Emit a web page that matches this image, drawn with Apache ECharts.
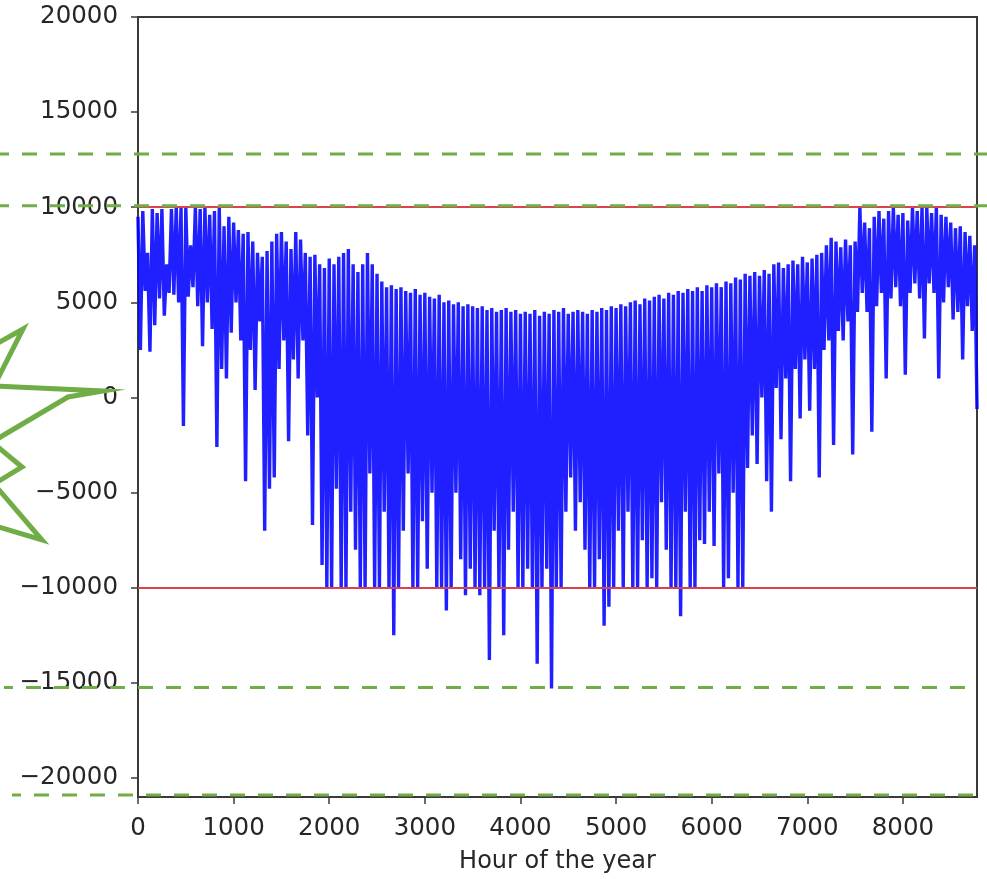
<!DOCTYPE html>
<html>
<head>
    <meta charset="utf-8">
    <title>Hour of the year</title>
    <script src="https://cdn.jsdelivr.net/npm/echarts@6/dist/echarts.min.js"></script>
    <style>
        html, body { margin: 0; padding: 0; background: #fff; }
        #main { width: 987px; height: 879px; }
    </style>
</head>
<body>
<div id="main"></div>
<script>
    // values, one pair per 50-hour block:
    // the highest point of the block and the lowest dip in it
    var blockHours = 50;
    var peakLoad = [
        9500, 9800, 7600, 9900, 9700, 9900, 7000, 9900, 10000, 10000,
        10000, 8000, 10000, 9900, 10000, 9600, 9800, 10000, 9000, 9500,
        9200, 8800, 8600, 8700, 8200, 7600, 7400, 7700, 8200, 8600,
        8700, 8200, 7800, 8700, 8300, 7600, 7400, 7500, 7000, 6800,
        7300, 7000, 7400, 7600, 7800, 7000, 6600, 7000, 7600, 7000,
        6500, 6100, 5800, 5900, 5700, 5800, 5600, 5500, 5700, 5400,
        5500, 5300, 5200, 5400, 5000, 5100, 4900, 5000, 4800, 4900,
        4800, 4700, 4800, 4600, 4700, 4500, 4600, 4700, 4500, 4600,
        4400, 4500, 4400, 4600, 4300, 4500, 4400, 4600, 4500, 4700,
        4400, 4500, 4600, 4500, 4400, 4600, 4500, 4700, 4600, 4800,
        4700, 4900, 4800, 5000, 5100, 4900, 5200, 5100, 5300, 5400,
        5200, 5500, 5400, 5600, 5500, 5700, 5600, 5800, 5600, 5900,
        5800, 6000, 5800, 6100, 6000, 6300, 6200, 6500, 6400, 6600,
        6400, 6700, 6500, 7000, 7100, 6800, 7000, 7200, 7000, 7400,
        7100, 7300, 7500, 7600, 8000, 8400, 8200, 7900, 8300, 8000,
        8200, 10000, 9200, 8900, 9500, 9800, 9400, 9800, 10000, 9600,
        9700, 9300, 10000, 9800, 10000, 10000, 9700, 10000, 9600, 9500,
        9200, 8900, 9000, 8700, 8500, 8000
    ];
    var dipLoad = [
        2500, 5600, 2400, 3800, 5200, 4300, 5500, 5400, 5000, -1500,
        5300, 5800, 4800, 2700, 5000, 3600, -2600, 1500, 1000, 3400,
        5000, 3000, -4400, 2500, 400, 4000, -7000, -4800, -4200, 1500,
        3000, -2300, 2000, 1000, 3000, -2000, -6700, 0, -8800, -10000,
        -10000, -4800, -10000, -10000, -6000, -8000, -10000, -10000, -4000, -10000,
        -10000, -6000, -10000, -12500, -10000, -7000, -4000, -10000, -10000, -6500,
        -9000, -5000, -10000, -10000, -11200, -10000, -5000, -8500, -10400, -9000,
        -10000, -10400, -10000, -13800, -7000, -10000, -12500, -8000, -6000, -10000,
        -10000, -9000, -10000, -14000, -10000, -9000, -15300, -10000, -10000, -6000,
        -4200, -7000, -5500, -8000, -10000, -10000, -8500, -12000, -11000, -10000,
        -7000, -10000, -6000, -10000, -10000, -7500, -10000, -9500, -10000, -5500,
        -8000, -10000, -10000, -11500, -6000, -10000, -10000, -7500, -7700, -6000,
        -7800, -4000, -10000, -9500, -5000, -10000, -10000, -3700, -2000, -3500,
        0, -4400, -6000, 500, -2200, 1000, -4400, 1500, -1100, 2000,
        -700, 1500, -4200, 2500, 3000, -2500, 3500, 3000, 4000, -3000,
        4500, 5500, 4500, -1800, 4800, 5500, 1000, 5200, 5800, 4800,
        1200, 5500, 6000, 5200, 3100, 6000, 5500, 1000, 5000, 5800,
        4100, 4500, 2000, 4800, 3500, -600
    ];
    var limitLines = [10000, -10000];
    var markedLevels = [12800, 10080, -15250, -20900];
    var xTicks = [0, 1000, 2000, 3000, 4000, 5000, 6000, 7000, 8000];
    var yTicks = [-20000, -15000, -10000, -5000, 0, 5000, 10000, 15000, 20000];

    var lineData = [];
    for (var i = 0; i < peakLoad.length; i++) {
        lineData.push([i * blockHours, peakLoad[i]]);
        lineData.push([i * blockHours + blockHours / 2, dipLoad[i]]);
    }

    var plain = function (v) { return String(v).replace('-', '\u2212'); };
    var myChart = echarts.init(document.getElementById('main'));
    var option = {
        animation: false,
        backgroundColor: '#fff',
        grid: {
            left: 138, right: 10, top: 17, bottom: 82,
            show: true, borderColor: '#3a3a3a', borderWidth: 2
        },
        xAxis: {
            type: 'value', min: 0, max: 8775,
            name: 'Hour of the year', nameLocation: 'middle', nameGap: 53,
            nameTextStyle: {fontFamily: 'DejaVu Sans', fontSize: 24, color: '#262626'},
            axisLine: {show: true, onZero: false, lineStyle: {color: '#3a3a3a', width: 2}},
            axisTick: {show: true, length: 7, customValues: xTicks, lineStyle: {color: '#3a3a3a', width: 1.5}},
            axisLabel: {customValues: xTicks, margin: 19, formatter: plain,
                fontFamily: 'DejaVu Sans', fontSize: 24.5, color: '#262626'},
            splitLine: {show: false}
        },
        yAxis: {
            type: 'value', min: -21000, max: 20000,
            axisLine: {show: true, lineStyle: {color: '#3a3a3a', width: 2}},
            axisTick: {show: true, length: 7, customValues: yTicks, lineStyle: {color: '#3a3a3a', width: 1.5}},
            axisLabel: {customValues: yTicks, margin: 20, formatter: plain,
                fontFamily: 'DejaVu Sans', fontSize: 24.5, color: '#262626'},
            splitLine: {show: false}
        },
        series: [{
            type: 'line',
            data: lineData,
            showSymbol: false,
            symbol: 'none',
            sampling: null,
            lineStyle: {color: '#0000ff', width: 3.4, opacity: 0.88, join: 'bevel'},
            markLine: {
                silent: true,
                symbol: 'none',
                label: {show: false},
                lineStyle: {color: '#d8434e', width: 2, type: 'solid', opacity: 1},
                data: limitLines.map(function (v) { return {yAxis: v}; })
            }
        }]
    };
    myChart.setOption(option);

    // green dashed levels and star drawn over the figure
    var extents = [[0, 990], [0, 990], [4, 978], [12, 975]];
    var graphics = markedLevels.map(function (v, k) {
        var y = myChart.convertToPixel({yAxisIndex: 0}, v);
        return {
            type: 'line', silent: true, z: 100,
            shape: {x1: extents[k][0], y1: y, x2: extents[k][1], y2: y},
            style: {stroke: '#70ad47', lineWidth: 3, lineDash: [15, 13], lineDashOffset: 6}
        };
    });
    graphics.push({
        type: 'polyline', silent: true, z: 100,
        shape: {points: [[-20, 353], [23, 329], [-6, 386], [103, 391], [68, 397], [-8, 442],
            [22, 467], [-6, 484], [42, 540], [-25, 520]]},
        style: {stroke: '#70ad47', lineWidth: 5, fill: null, lineJoin: 'miter'}
    });
    myChart.setOption({graphic: graphics});
</script>
</body>
</html>
